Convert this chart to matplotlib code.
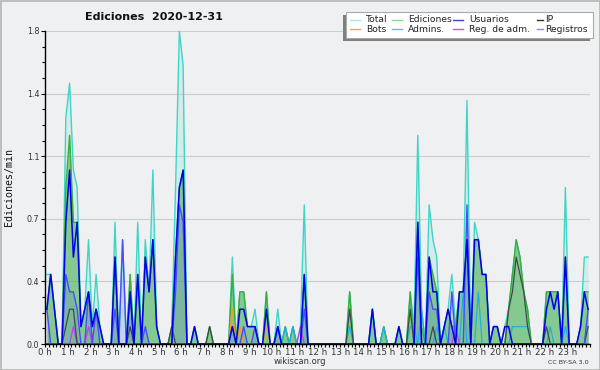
import numpy as np
import matplotlib
matplotlib.use('Agg')
import matplotlib.pyplot as plt
from matplotlib.patches import Rectangle
from matplotlib.ticker import FixedLocator, MultipleLocator

# ---- data: edits per minute, 10-minute bins (144 per day) ----
total = [
    .4, .4, .2, 0, 0, 1.3,   1.5, 1.0, .9, .1, .2, .6,
    .1, .4, .1, 0, 0, 0,     .7, 0, .6, 0, .4, 0,
    .7, 0, .6, .3, 1.0, .1,  0, 0, 0, .1, .9, 1.8,
    1.6, 0, 0, .1, 0, 0,     0, .1, 0, 0, 0, 0,
    0, .5, 0, .3, .3, .1,    .1, .2, 0, 0, .3, 0,
    0, .2, 0, .1, 0, .1,     0, .1, .8, 0, 0, 0,
    0, 0, 0, 0, 0, 0,        0, 0, .3, 0, 0, 0,
    0, 0, .2, 0, 0, .1,      0, 0, 0, .1, 0, 0,
    .3, .1, 1.2, .2, 0, .8,  .6, .5, 0, .1, .2, .4,
    .1, .3, .3, 1.4, 0, .7,  .6, .4, .4, 0, .1, .1,
    0, .1, .2, .4, .6, .5,   .3, .2, 0, 0, 0, 0,
    .3, .3, .3, .3, 0, .9,   0, 0, 0, .1, .5, .5,
]
ediciones = [
    .2, .4, .2, 0, 0, .9,    1.2, .7, .7, .1, .2, .3,
    .1, .2, .1, 0, 0, 0,     .5, 0, 0, 0, .4, 0,
    .4, 0, .5, .3, .6, .1,   0, 0, 0, .1, .5, .9,
    1.0, 0, 0, .1, 0, 0,     0, .1, 0, 0, 0, 0,
    0, .4, 0, .3, .3, .1,    .1, .1, 0, 0, .3, 0,
    0, .1, 0, .1, 0, .1,     0, 0, .4, 0, 0, 0,
    0, 0, 0, 0, 0, 0,        0, 0, .3, 0, 0, 0,
    0, 0, .2, 0, 0, .1,      0, 0, 0, .1, 0, 0,
    .3, 0, .7, .1, 0, .5,    .4, .3, 0, .1, .2, .1,
    .1, .3, .3, .6, 0, .6,   .6, .4, .4, 0, .1, .1,
    0, 0, .2, .4, .6, .5,    .3, .2, 0, 0, 0, 0,
    .3, .3, .3, .3, 0, .5,   0, 0, 0, .1, .3, .3,
]
usuarios = [
    .2, .4, .2, 0, 0, .7,    1.0, .5, .7, .1, .2, .3,
    .1, .2, .1, 0, 0, 0,     .5, 0, 0, 0, .3, 0,
    .4, 0, .5, .3, .6, .1,   0, 0, 0, 0, .5, .9,
    1.0, 0, 0, .1, 0, 0,     0, 0, 0, 0, 0, 0,
    0, .1, 0, .2, .2, .1,    .1, .1, 0, 0, .2, 0,
    0, .1, 0, 0, 0, 0,       0, 0, .4, 0, 0, 0,
    0, 0, 0, 0, 0, 0,        0, 0, 0, 0, 0, 0,
    0, 0, .2, 0, 0, 0,       0, 0, 0, .1, 0, 0,
    0, 0, .7, 0, 0, .5,      .3, .3, 0, .1, .2, .1,
    0, .3, .3, .6, 0, .6,    .6, .4, .4, 0, .1, .1,
    0, .1, .1, 0, 0, 0,      0, 0, 0, 0, 0, 0,
    .2, .3, .2, .3, 0, .5,   0, 0, 0, .1, .3, .2,
]
registros = [
    .2, 0, 0, 0, 0, .4,      .3, .3, .2, 0, 0, .3,
    0, .2, 0, 0, 0, 0,       .2, 0, .6, 0, .3, 0,
    0, 0, .1, 0, 0, 0,       0, 0, 0, 0, .3, .8,
    .7, 0, 0, 0, 0, 0,       0, 0, 0, 0, 0, 0,
    0, .1, 0, 0, .1, 0,      0, .1, 0, 0, 0, 0,
    0, .1, 0, 0, 0, 0,       0, 0, .2, 0, 0, 0,
    0, 0, 0, 0, 0, 0,        0, 0, 0, 0, 0, 0,
    0, 0, 0, 0, 0, 0,        0, 0, 0, 0, 0, 0,
    0, 0, .5, 0, 0, .3,      .2, .2, 0, 0, 0, .3,
    0, 0, 0, .8, 0, 0,       0, 0, 0, 0, 0, 0,
    0, 0, 0, 0, 0, 0,        0, 0, 0, 0, 0, 0,
    0, 0, 0, 0, 0, 0,        0, 0, 0, 0, 0, .2,
]
ip = [
    0, 0, 0, 0, 0, .1,       .2, .2, 0, 0, 0, 0,
    0, 0, 0, 0, 0, 0,        0, 0, 0, 0, .1, 0,
    0, 0, 0, 0, 0, 0,        0, 0, 0, .1, 0, 0,
    0, 0, 0, 0, 0, 0,        0, .1, 0, 0, 0, 0,
    0, 0, 0, 0, 0, 0,        0, 0, 0, 0, 0, 0,
    0, 0, 0, 0, 0, 0,        0, 0, 0, 0, 0, 0,
    0, 0, 0, 0, 0, 0,        0, 0, .2, 0, 0, 0,
    0, 0, 0, 0, 0, 0,        0, 0, 0, 0, 0, 0,
    .2, 0, 0, 0, 0, 0,       .1, 0, 0, 0, 0, 0,
    0, 0, 0, 0, 0, 0,        0, 0, 0, 0, 0, 0,
    0, 0, .2, .3, .5, .4,    .3, .1, 0, 0, 0, 0,
    .1, 0, 0, 0, 0, 0,       0, 0, 0, 0, 0, .1,
]
admins = [
    0, 0, 0, 0, 0, 0,        0, 0, 0, 0, 0, 0,
    0, 0, 0, 0, 0, 0,        0, 0, 0, 0, 0, 0,
    0, 0, 0, 0, 0, 0,        0, 0, 0, 0, 0, 0,
    0, 0, 0, 0, 0, 0,        0, 0, 0, 0, 0, 0,
    0, 0, 0, 0, 0, 0,        0, 0, 0, 0, 0, 0,
    0, 0, 0, .1, 0, .1,      0, 0, 0, 0, 0, 0,
    0, 0, 0, 0, 0, 0,        0, 0, .1, 0, 0, 0,
    0, 0, .2, 0, 0, .1,      0, 0, 0, 0, 0, 0,
    .1, .1, 0, .2, 0, 0,     0, .1, 0, .1, 0, 0,
    0, 0, .3, 0, 0, 0,       .3, 0, 0, 0, .1, .1,
    0, 0, 0, .1, .1, .1,     .1, .1, 0, 0, 0, 0,
    0, .1, 0, 0, 0, .1,      0, 0, 0, 0, 0, 0,
]
bots = [0] * 48 + [0, .2, 0, .1, 0, 0, 0, 0, 0, 0, .1, 0] + [0] * 84
regadm = ([0] * 7 + [.1] + [0] * 3 + [.1] + [0] * 55 + [.1] + [0] * 40
          + [.1] + [0] * 35)

hour_labels = [f"{h} h" for h in range(24)]
ytick_vals = [0, 0.36, 0.72, 1.08, 1.44, 1.8]
ytick_labels = ["0.0", "0.4", "0.7", "1.1", "1.4", "1.8"]

legend_items = [
    ("Total", "#a6e8e0"), ("Ediciones", "#8ed88e"), ("Usuarios", "#4444dd"), ("IP", "#333333"),
    ("Bots", "#ffa040"), ("Admins.", "#4cc8e0"), ("Reg. de adm.", "#d050e0"), ("Registros", "#8888ee"),
]

# ---- figure ----
BG = "#eff0f1"
fig = plt.figure(figsize=(6, 3.7), dpi=100, facecolor=BG)
ax = fig.add_axes([45 / 600, 1 - 344 / 370, 545 / 600, 313 / 370])
ax.set_facecolor(BG)

x = (np.arange(144) + 0.5) / 6.0

ax.fill_between(x, total, color="#5fd8cc", alpha=0.18, lw=0, zorder=2)
ax.fill_between(x, ediciones, color="#35a835", alpha=0.5, lw=0, zorder=2)
ax.fill_between(x, registros, color="#5050ff", alpha=0.15, lw=0, zorder=2)
ax.plot(x, total, color="#3dd6c6", lw=1.0, zorder=3)
ax.plot(x, ediciones, color="#3aae3a", lw=1.0, zorder=3)
ax.plot(x, bots, color="#ff9a1a", lw=0.9, zorder=3)
ax.plot(x, admins, color="#22aee0", lw=0.9, zorder=3)
ax.plot(x, regadm, color="#c040f0", lw=0.9, zorder=3)
ax.plot(x, ip, color="#404848", lw=0.9, zorder=3)
ax.plot(x, registros, color="#4a4aff", lw=1.0, zorder=3)
ax.plot(x, usuarios, color="#0000ee", lw=1.1, zorder=3)

ax.set_xlim(0, 24)
ax.set_ylim(0, 1.8)

ax.xaxis.set_major_locator(FixedLocator(np.arange(24)))
ax.set_xticklabels(hour_labels)
ax.xaxis.set_minor_locator(MultipleLocator(1 / 6))
ax.yaxis.set_major_locator(FixedLocator(ytick_vals))
ax.set_yticklabels(ytick_labels)
ax.yaxis.set_minor_locator(MultipleLocator(0.09))

ax.tick_params(axis="x", which="both", direction="out", length=2.5, width=0.8,
               pad=0.5, labelsize=6.2, labelcolor="#333333")
ax.tick_params(axis="y", which="major", direction="out", length=3.2, width=0.8,
               pad=1, labelsize=5.8, labelcolor="#333333")
ax.tick_params(axis="y", which="minor", direction="out", length=2.2, width=0.8)

ax.yaxis.grid(True, which="major", color="#cccccc", lw=0.8, zorder=0)
ax.set_axisbelow(True)
for s in ("top", "right"):
    ax.spines[s].set_visible(False)
for s in ("left", "bottom"):
    ax.spines[s].set_linewidth(1.0)
    ax.spines[s].set_zorder(5)

# ---- overlay for texts, legend, border ----
ov = fig.add_axes([0, 0, 1, 1])
ov.set_xlim(0, 600)
ov.set_ylim(370, 0)
ov.axis("off")

ov.text(153.5, 17, "Ediciones  2020-12-31", ha="center", va="center",
        fontsize=8, fontweight="bold", color="#111111")
ov.text(9, 187, "Ediciones/min", rotation=90, ha="center", va="center",
        family="DejaVu Sans Mono", fontsize=7.2, color="#111111")
ov.text(300, 361, "wikiscan.org", ha="center", va="center", fontsize=6, color="#333333")
ov.text(589, 362, "CC BY-SA 3.0", ha="right", va="center", fontsize=4.6, color="#333333")

# legend box with shadow
ov.add_patch(Rectangle((343, 15), 247, 26, facecolor="#7f7f7f", edgecolor="none", zorder=1))
ov.add_patch(Rectangle((346, 12), 247, 26, facecolor="white", edgecolor="#aaaaaa", lw=0.8, zorder=2))
col_x = [350, 392, 453, 537]
text_x = [366, 408, 469, 545]
row_y = [19.5, 29]
for k, (lab, col) in enumerate(legend_items):
    r, c = divmod(k, 4)
    hl = 10 if c < 3 else 6
    ov.plot([col_x[c], col_x[c] + hl], [row_y[r], row_y[r]], color=col, lw=1.0, zorder=3)
    ov.text(text_x[c], row_y[r], lab, ha="left", va="center", fontsize=6.6,
            color="#222222", zorder=3)

ov.add_patch(Rectangle((0.5, 0.5), 599, 369, fill=False, edgecolor="#b4b4b4", lw=1.2, zorder=4))

fig.savefig("out.png", dpi=100, facecolor=BG)
